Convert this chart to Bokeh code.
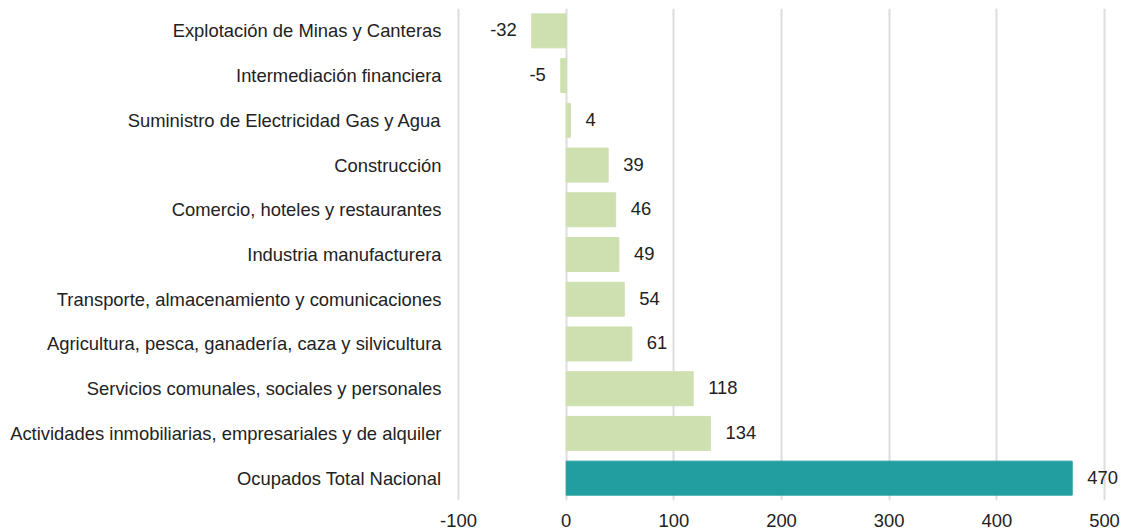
from bokeh.plotting import figure
from bokeh.models import ColumnDataSource, FactorRange, Range1d, FixedTicker, LabelSet
from bokeh.embed import file_html
from bokeh.resources import INLINE
from bokeh.core.properties import value

categories = [
    "Explotación de Minas y Canteras",
    "Intermediación financiera",
    "Suministro de Electricidad Gas y Agua",
    "Construcción",
    "Comercio, hoteles y restaurantes",
    "Industria manufacturera",
    "Transporte, almacenamiento y comunicaciones",
    "Agricultura, pesca, ganadería, caza y silvicultura",
    "Servicios comunales, sociales y personales",
    "Actividades inmobiliarias, empresariales y de alquiler",
    "Ocupados Total Nacional",
]
values = [-32, -5, 4, 39, 46, 49, 54, 61, 118, 134, 470]
x_ticks = [-100, 0, 100, 200, 300, 400, 500]

colors = ["#239ea0" if c == "Ocupados Total Nacional" else "#cfe0b0" for c in categories]

src = ColumnDataSource(dict(cat=categories, val=values, color=colors))
pos = [i for i, v in enumerate(values) if v >= 0]
neg = [i for i, v in enumerate(values) if v < 0]
src_pos = ColumnDataSource(dict(cat=[categories[i] for i in pos], val=[values[i] for i in pos],
                                lbl=[str(values[i]) for i in pos]))
src_neg = ColumnDataSource(dict(cat=[categories[i] for i in neg], val=[values[i] for i in neg],
                                lbl=[str(values[i]) for i in neg]))

FONT = "Liberation Sans"
FS = "18.4px"
TXT = "#222222"

# frame spans 456..1121 px; gridlines -100 at 458 px and 500 at 1104 px
PX = 600 / 646
p = figure(width=1121, height=531, output_backend="svg", toolbar_location=None,
           y_range=FactorRange(*reversed(categories), range_padding=0),
           x_range=Range1d(-100 - 2 * PX, 500 + 17 * PX))
p.min_border_left = 456
p.min_border_right = 0
p.min_border_top = 8
p.min_border_bottom = 31
p.outline_line_color = None
p.background_fill_color = "white"

p.hbar(y="cat", right="val", left=0, height=0.76, color="color", source=src)

for s, off, al in ((src_pos, 15, "left"), (src_neg, -15, "right")):
    p.add_layout(LabelSet(x="val", y="cat", text="lbl", x_offset=off, y_offset=1,
                          text_align=al, text_baseline="middle", text_font=value(FONT),
                          text_font_size=value(FS), text_color=TXT, source=s))

p.ygrid.grid_line_color = None
p.xgrid.grid_line_color = "#dddddd"
p.xgrid.grid_line_width = 2
p.xgrid.level = "underlay"
p.xaxis.ticker = FixedTicker(ticks=x_ticks)
p.xaxis.major_label_overrides = {-100: "-100"}
p.xaxis.axis_line_color = None
p.xaxis.major_tick_line_color = None
p.xaxis.minor_tick_line_color = None
p.xaxis.major_label_text_font = FONT
p.xaxis.major_label_text_font_size = FS
p.xaxis.major_label_text_color = TXT
p.xaxis.major_label_standoff = 7

p.yaxis.axis_line_color = None
p.yaxis.major_tick_line_color = None
p.yaxis.major_label_text_font = FONT
p.yaxis.major_label_text_font_size = FS
p.yaxis.major_label_text_color = TXT
p.yaxis.major_label_standoff = 9

open("out.html", "w").write(file_html(p, INLINE))
